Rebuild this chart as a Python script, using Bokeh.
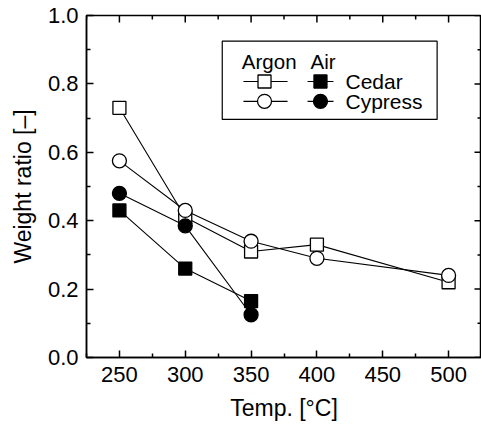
from bokeh.plotting import figure
from bokeh.models import Range1d, BoxAnnotation, FixedTicker, PrintfTickFormatter
from bokeh.core.properties import value
from bokeh.embed import file_html
from bokeh.resources import INLINE

# ---- data ----
temps_argon = [250, 300, 350, 400, 500]
argon_cedar = [0.73, 0.41, 0.31, 0.33, 0.22]
argon_cypress = [0.575, 0.43, 0.34, 0.29, 0.24]
temps_air = [250, 300, 350]
air_cedar = [0.43, 0.26, 0.165]
air_cypress = [0.48, 0.385, 0.125]

x_ticks = [250, 300, 350, 400, 450, 500]
y_ticks = [0.0, 0.2, 0.4, 0.6, 0.8, 1.0]
x_minor = [225, 275, 325, 375, 425, 475, 525]
y_minor = [0.1, 0.3, 0.5, 0.7, 0.9]

FONT = "Liberation Sans"
X0, X1, Y0, Y1 = 225, 525, 0.0, 1.0

p = figure(width=481, height=428, output_backend="svg", toolbar_location=None,
           x_range=Range1d(X0, X1), y_range=Range1d(Y0, Y1),
           min_border_left=86, min_border_right=0, min_border_top=15,
           min_border_bottom=71, x_axis_label="Temp. [°C]",
           y_axis_label="Weight ratio [–]")
p.xgrid.visible = False
p.ygrid.visible = False
p.outline_line_color = "black"
p.outline_line_width = 1.5
p.outline_line_alpha = 1.0
p.background_fill_color = "white"
p.border_fill_color = "white"


def style_axis(ax, ticks, minor):
    ax.ticker = FixedTicker(ticks=ticks, minor_ticks=minor)
    ax.axis_line_color = "black"
    ax.axis_line_width = 1.5
    ax.major_tick_in = 7
    ax.major_tick_out = 0
    ax.minor_tick_in = 4
    ax.minor_tick_out = 0
    ax.major_tick_line_width = 1.5
    ax.minor_tick_line_width = 1.5
    ax.major_tick_line_color = "black"
    ax.minor_tick_line_color = "black"
    ax.major_label_text_font = FONT
    ax.major_label_text_font_size = "22px"
    ax.major_label_text_color = "black"
    ax.axis_label_text_font = FONT
    ax.axis_label_text_font_size = "23px"
    ax.axis_label_text_font_style = "normal"
    ax.axis_label_text_color = "black"


style_axis(p.xaxis[0], x_ticks, x_minor)
style_axis(p.yaxis[0], y_ticks, y_minor)
p.xaxis[0].major_label_standoff = 9
p.xaxis[0].axis_label_standoff = 10
p.yaxis[0].major_label_standoff = 8
p.yaxis[0].axis_label_standoff = 9
p.yaxis[0].major_label_orientation = "horizontal"
p.yaxis[0].formatter = PrintfTickFormatter(format="%.1f")

# ---- mirrored ticks on top and right frame edges ----
px_x = (X1 - X0) / 395.0
px_y = (Y1 - Y0) / 342.0
p.segment(x0=x_ticks, y0=[Y1] * len(x_ticks), x1=x_ticks,
          y1=[Y1 - 7 * px_y] * len(x_ticks), line_color="black", line_width=1.5)
p.segment(x0=x_minor, y0=[Y1] * len(x_minor), x1=x_minor,
          y1=[Y1 - 4 * px_y] * len(x_minor), line_color="black", line_width=1.5)
p.segment(x0=[X1] * len(y_ticks), y0=y_ticks, x1=[X1 - 7 * px_x] * len(y_ticks),
          y1=y_ticks, line_color="black", line_width=1.5)
p.segment(x0=[X1] * len(y_minor), y0=y_minor, x1=[X1 - 4 * px_x] * len(y_minor),
          y1=y_minor, line_color="black", line_width=1.5)

# ---- lines ----
lw = 1.1
p.line(temps_argon, argon_cedar, line_color="black", line_width=lw)
p.line(temps_argon, argon_cypress, line_color="black", line_width=lw)
p.line(temps_air, air_cedar, line_color="black", line_width=lw)
p.line(temps_air, air_cypress, line_color="black", line_width=lw)

# ---- markers ----
p.scatter(temps_argon, argon_cedar, marker="square", size=13, fill_color="white",
          line_color="black", line_width=1.3)
p.scatter(temps_argon, argon_cypress, marker="circle", size=14, fill_color="white",
          line_color="black", line_width=1.3)
p.scatter(temps_air, air_cedar, marker="square", size=13, fill_color="black",
          line_color="black", line_width=1.3)
p.scatter(temps_air, air_cypress, marker="circle", size=14, fill_color="black",
          line_color="black", line_width=1.3)

# ---- legend (manual) ----
p.add_layout(BoxAnnotation(left=328.1, right=491.3, top=0.925, bottom=0.696,
                           fill_color=None, fill_alpha=0.0,
                           line_color="black", line_alpha=1.0, line_width=1.2,
                           level="underlay"))
row1, row2 = 0.807, 0.749
p.segment(x0=[344.2, 344.2, 392.9, 392.9], y0=[row1, row2, row1, row2],
          x1=[377.7, 377.7, 412.6, 412.6], y1=[row1, row2, row1, row2],
          line_color="black", line_width=lw)
p.scatter([360.2], [row1], marker="square", size=13, fill_color="white",
          line_color="black", line_width=1.3)
p.scatter([360.2], [row2], marker="circle", size=14, fill_color="white",
          line_color="black", line_width=1.3)
p.scatter([402.7], [row1], marker="square", size=13, fill_color="black",
          line_color="black", line_width=1.3)
p.scatter([402.7], [row2], marker="circle", size=14, fill_color="black",
          line_color="black", line_width=1.3)
p.text(x=[343.0, 395.1], y=[0.865, 0.865], text=["Argon", "Air"],
       text_font=value(FONT), text_font_size="20.5px", text_baseline="middle",
       text_align="left", text_color="black")
p.text(x=[421.7, 421.7], y=[row1, row2], text=["Cedar", "Cypress"],
       text_font=value(FONT), text_font_size="21px", text_baseline="middle",
       text_align="left", text_color="black")

open("out.html", "w").write(file_html(p, INLINE))
